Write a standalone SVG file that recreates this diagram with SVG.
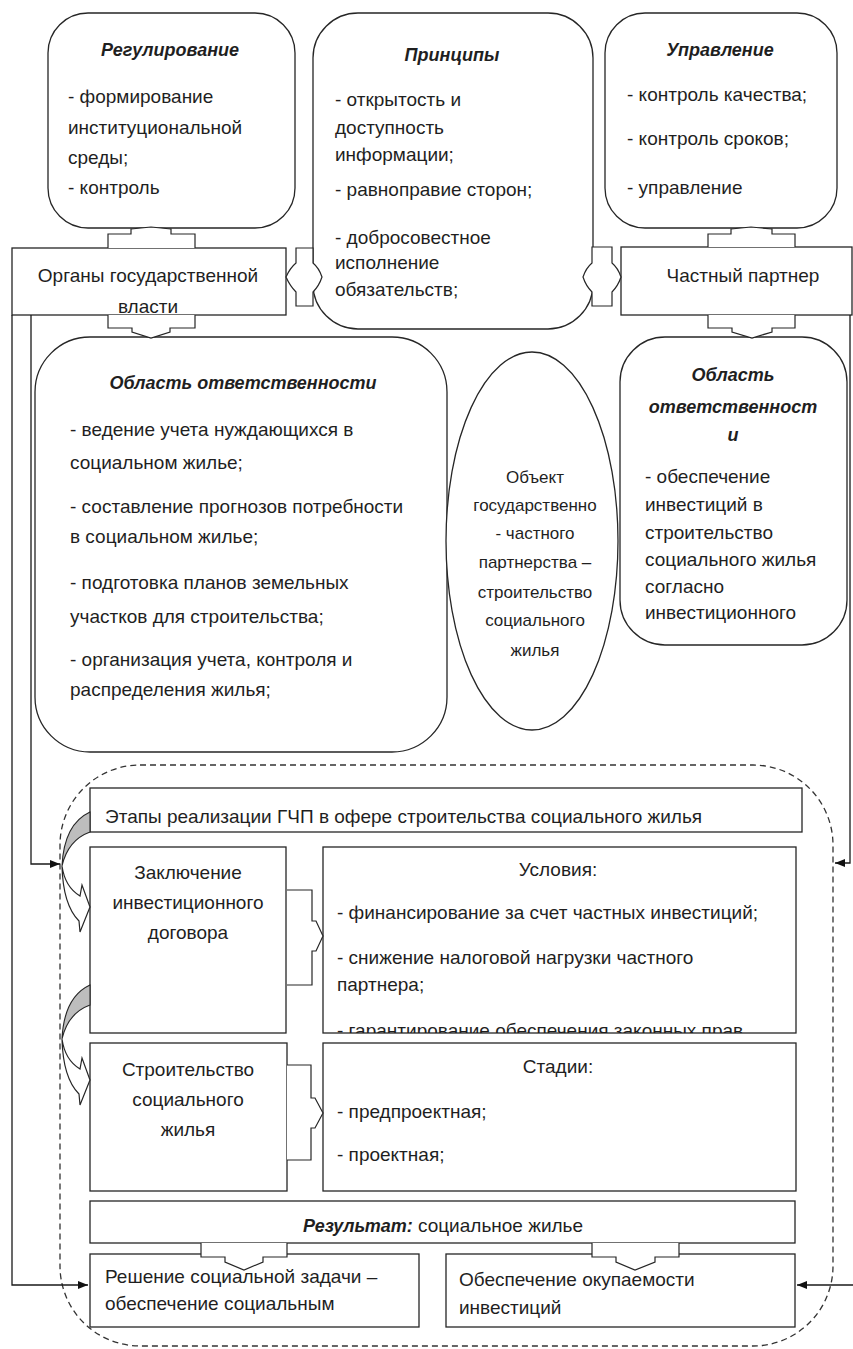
<svg xmlns="http://www.w3.org/2000/svg" width="853" height="1349" viewBox="0 0 853 1349">
<style>
.box{fill:#fff;stroke:#262626;stroke-width:1.3}
.t{font-family:"Liberation Sans",Arial,sans-serif;font-size:19px;fill:#1f1f1f}
.s{font-size:17px}
.h{font-weight:bold;font-style:italic;font-size:18px}
.c{text-anchor:middle}
.ln{fill:none;stroke:#1a1a1a;stroke-width:1.3}
.ba{fill:#fff;stroke:#262626;stroke-width:1.2}
.gr{fill:#bdbdbd;stroke:#262626;stroke-width:1.1}
.dash{fill:none;stroke:#333;stroke-width:1.3;stroke-dasharray:6 4}
</style>
<defs>
<marker id="ah" viewBox="0 0 10 10" refX="10" refY="5" markerWidth="10" markerHeight="10" markerUnits="userSpaceOnUse" orient="auto">
<path d="M0,1 L10,5 L0,9 Z" fill="#111"/>
</marker>
<clipPath id="clipOrg"><rect x="12" y="248" width="274" height="66"/></clipPath>
<clipPath id="clipUsl"><rect x="323" y="847" width="473" height="186"/></clipPath>
</defs>
<rect width="853" height="1349" fill="#fff"/>

<rect class="dash" x="60" y="765" width="773" height="581" rx="80" ry="80"/>

<g id="regulirovanie">
<rect class="box" x="48" y="13" width="247" height="215" rx="40"/>
<text class="t h c" x="170" y="56">Регулирование</text>
<text class="t" x="68" y="103">- формирование</text>
<text class="t" x="68" y="134">институциональной</text>
<text class="t" x="68" y="164">среды;</text>
<text class="t" x="68" y="194">- контроль</text>
</g>

<g id="principy">
<rect class="box" x="313" y="13" width="280" height="316" rx="45"/>
<text class="t h c" x="452" y="61">Принципы</text>
<text class="t" x="335" y="106">- открытость и</text>
<text class="t" x="335" y="134">доступность</text>
<text class="t" x="335" y="161">информации;</text>
<text class="t" x="335" y="196">- равноправие сторон;</text>
<text class="t" x="335" y="244">- добросовестное</text>
<text class="t" x="335" y="269">исполнение</text>
<text class="t" x="335" y="296">обязательств;</text>
</g>

<g id="upravlenie">
<rect class="box" x="605" y="13" width="232" height="215" rx="40"/>
<text class="t h c" x="720" y="56">Управление</text>
<text class="t" x="627" y="101">- контроль качества;</text>
<text class="t" x="627" y="145">- контроль сроков;</text>
<text class="t" x="627" y="194">- управление</text>
</g>

<g id="organy">
<rect class="box" x="12" y="248" width="274" height="67"/>
<g clip-path="url(#clipOrg)">
<text class="t c" x="148" y="282">Органы государственной</text>
<text class="t c" x="148" y="313">власти</text>
</g>
</g>

<g id="partner">
<rect class="box" x="621" y="247" width="231" height="68"/>
<text class="t c" x="743" y="282">Частный партнер</text>
</g>

<g id="oblast-gov">
<rect class="box" x="35" y="337" width="412" height="415" rx="55"/>
<text class="t h c" x="243" y="389">Область ответственности</text>
<text class="t" x="70" y="436">- ведение учета нуждающихся в</text>
<text class="t" x="70" y="469">социальном жилье;</text>
<text class="t" x="70" y="513">- составление прогнозов потребности</text>
<text class="t" x="70" y="543">в социальном жилье;</text>
<text class="t" x="70" y="589">- подготовка планов земельных</text>
<text class="t" x="70" y="623">участков для строительства;</text>
<text class="t" x="70" y="666">- организация учета, контроля и</text>
<text class="t" x="70" y="696">распределения жилья;</text>
</g>

<g id="objekt">
<ellipse class="box" cx="532" cy="541" rx="86" ry="189"/>
<text class="t s c" x="535" y="483">Объект</text>
<text class="t s c" x="535" y="511">государственно</text>
<text class="t s c" x="535" y="539">- частного</text>
<text class="t s c" x="535" y="568">партнерства –</text>
<text class="t s c" x="535" y="598">строительство</text>
<text class="t s c" x="535" y="626">социального</text>
<text class="t s c" x="535" y="656">жилья</text>
</g>

<g id="oblast-partner">
<rect class="box" x="620" y="337" width="227" height="308" rx="45"/>
<text class="t h c" x="733" y="381">Область</text>
<text class="t h c" x="733" y="413">ответственност</text>
<text class="t h c" x="733" y="441">и</text>
<text class="t" x="645" y="483">- обеспечение</text>
<text class="t" x="645" y="511">инвестиций в</text>
<text class="t" x="645" y="539">строительство</text>
<text class="t" x="645" y="566">социального жилья</text>
<text class="t" x="645" y="593">согласно</text>
<text class="t" x="645" y="619">инвестиционного</text>
</g>

<g id="etapy">
<rect class="box" x="90" y="788" width="712" height="44"/>
<text class="t" x="105" y="823">Этапы реализации ГЧП в офере строительства социального жилья</text>
</g>

<g id="zaklyuchenie">
<rect class="box" x="90" y="847" width="196" height="186"/>
<text class="t c" x="188" y="879">Заключение</text>
<text class="t c" x="188" y="909">инвестиционного</text>
<text class="t c" x="188" y="939">договора</text>
</g>

<g id="usloviya">
<rect class="box" x="323" y="847" width="473" height="186"/>
<g clip-path="url(#clipUsl)">
<text class="t c" x="558" y="876">Условия:</text>
<text class="t" x="337" y="919">- финансирование за счет частных инвестиций;</text>
<text class="t" x="337" y="964">- снижение налоговой нагрузки частного</text>
<text class="t" x="337" y="991">партнера;</text>
<text class="t" x="337" y="1037">- гарантирование обеспечения законных прав</text>
</g>
</g>

<g id="stroitelstvo">
<rect class="box" x="90" y="1043" width="197" height="148"/>
<text class="t c" x="188" y="1076">Строительство</text>
<text class="t c" x="188" y="1106">социального</text>
<text class="t c" x="188" y="1136">жилья</text>
</g>

<g id="stadii">
<rect class="box" x="323" y="1043" width="473" height="148"/>
<text class="t c" x="558" y="1073">Стадии:</text>
<text class="t" x="337" y="1118">- предпроектная;</text>
<text class="t" x="337" y="1161">- проектная;</text>
</g>

<g id="rezultat">
<rect class="box" x="90" y="1201" width="705" height="42"/>
<text class="t c" x="443" y="1232"><tspan class="h">Результат:</tspan> социальное жилье</text>
</g>

<g id="reshenie">
<rect class="box" x="90" y="1254" width="329" height="73"/>
<text class="t" x="105" y="1283">Решение социальной задачи –</text>
<text class="t" x="105" y="1310">обеспечение социальным</text>
</g>

<g id="okupaemost">
<rect class="box" x="446" y="1254" width="349" height="73"/>
<text class="t" x="459" y="1286">Обеспечение окупаемости</text>
<text class="t" x="459" y="1314">инвестиций</text>
</g>

<g id="connectors">
<path class="ln" d="M12,315 V1285 H88" marker-end="url(#ah)"/>
<path class="ln" d="M31,315 V864 H60" marker-end="url(#ah)"/>
<path class="ln" d="M850,315 V863 H835" marker-end="url(#ah)"/>
<path class="ln" d="M853,1285 H797" marker-end="url(#ah)"/>

<path class="ba" d="M108,248 V234 H131 V229 L151,227 L171,229 V234 H195 V248"/>
<path class="ba" d="M108,315 V328 H132 V332 L151,338 L170,332 V328 H195 V315"/>
<path class="ba" d="M708,247 V234 H731 V229 L751,227 L772,229 V234 H795 V247"/>
<path class="ba" d="M708,315 V328 H732 V332 L752,338 L772,332 V328 H795 V315"/>

<path class="ba" d="M296,248 H313 V263 Q319,268 322,277 Q319,286 313,292 V306 H296 V292 Q290,286 286,277 Q290,268 296,263 Z"/>
<path class="ba" d="M592,247 H612 V263 Q618,268 621,277 Q618,286 612,292 V306 H592 V292 Q586,286 583,277 Q586,268 592,263 Z"/>

<path class="ba" d="M287,890 H312 V921 H316 L323,936 L316,951 H312 V985 H287"/>
<path class="ba" d="M287,1065 H311 V1098 H315 L323,1113 L315,1128 H311 V1160 H287"/>

<path class="ba" d="M201,1243 V1257 H225 V1262 L244,1270 L263,1262 V1257 H287 V1243"/>
<path class="ba" d="M592,1243 V1257 H616 V1262 L635,1270 L655,1262 V1257 H679 V1243"/>

<path class="gr" d="M90,812 Q64,824 62,866 Q68,840 90,832 Z"/>
<path class="ba" d="M62,866 Q65,887 80,896 L82,885 L90,907 L80,932 L79,921 Q63,905 62,866 Z"/>
<path class="gr" d="M90,985 Q64,997 62,1039 Q68,1013 90,1005 Z"/>
<path class="ba" d="M62,1039 Q65,1060 80,1069 L82,1058 L90,1080 L80,1105 L79,1094 Q63,1078 62,1039 Z"/>
</g>
</svg>
